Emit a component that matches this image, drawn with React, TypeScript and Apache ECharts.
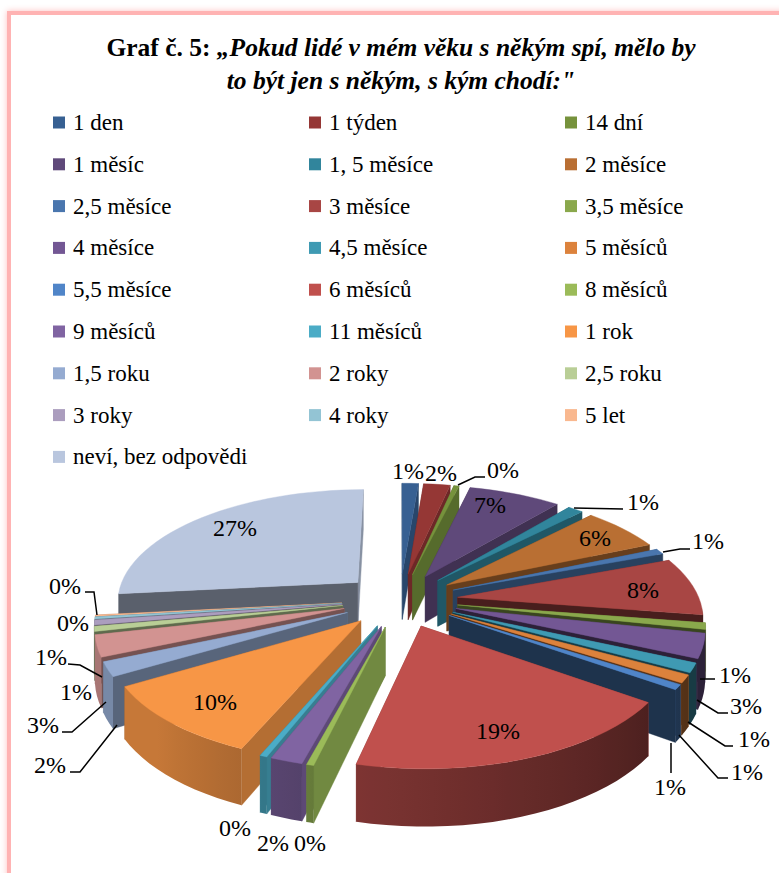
import React, { useEffect, useRef } from "react";
import * as echarts from "echarts";

const categories = ["1 den","1 týden","14 dní","1 měsíc","1, 5 měsíce","2 měsíce","2,5 měsíce","3 měsíce","3,5 měsíce","4 měsíce","4,5 měsíce","5 měsíců","5,5 měsíce","6 měsíců","8 měsíců","9 měsíců","11 měsíců","1 rok","1,5 roku","2 roky","2,5 roku","3 roky","4 roky","5 let","neví, bez odpovědi"];
const values = [1.3,2.1,0.4,7.3,1.2,6.3,0.8,8.2,0.9,3.4,1.3,1.1,0.7,19.0,0.4,1.8,0.4,10.2,2.0,3.0,0.7,0.7,0.3,0.2,26.8];
const colors = ["#376092","#953735","#76923C","#5F497A","#31859C","#B96F33","#4A76AE","#A84644","#8AA84C","#735794","#3F9AB3","#DC823C","#5085C8","#C0504D","#9BBB59","#8064A2","#4BACC6","#F79646","#95ABD1","#D29391","#B9CE96","#AB9DBE","#93C4D4","#F9B88F","#B9C6DE"];

const W = 779, H = 873;
const CX = 400, CY = 600, RX = 242, RY = 112, EXPLODE = 0.24, PERSP = 0.153, DEPTH = 47;

// label layout: slice index -> text centre, optional leader line
const labelLayout: Record<number, { at: number[]; leader?: number[][] }> = {
  0: { at: [408, 471] },
  1: { at: [441, 473] },
  2: { at: [503, 470], leader: [[458,485],[475,477],[485,477]] },
  3: { at: [490, 505] },
  4: { at: [643, 502], leader: [[574,508],[623,509]] },
  5: { at: [595, 538] },
  6: { at: [708, 541], leader: [[663,552],[680,549],[690,549]] },
  7: { at: [643, 590] },
  8: { at: [735, 675], leader: [[700,679],[715,679]] },
  9: { at: [746, 706], leader: [[697,700],[718,713],[728,713]] },
  10: { at: [754, 739], leader: [[688,722],[725,746],[733,746]] },
  11: { at: [747, 772], leader: [[679,735],[718,778],[728,778]] },
  12: { at: [670, 787], leader: [[671,743],[671,773]] },
  13: { at: [498, 731] },
  14: { at: [310, 843] },
  15: { at: [273, 843] },
  16: { at: [235, 828] },
  17: { at: [215, 702] },
  18: { at: [50, 765], leader: [[70,772],[80,772],[117,725]] },
  19: { at: [43, 725], leader: [[62,732],[72,732],[106,702]] },
  20: { at: [76, 692] },
  21: { at: [51, 657], leader: [[68,664],[80,665],[102,677]] },
  22: { at: [73, 623] },
  23: { at: [65, 586], leader: [[85,592],[94,592],[97,615]] },
  24: { at: [235, 528] },
};

const total = values.reduce((a, b) => a + b, 0);
const spans: { a0: number; a1: number }[] = [];
values.reduce((acc, v) => {
  spans.push({ a0: (acc / total) * 2 * Math.PI, a1: ((acc + v) / total) * 2 * Math.PI });
  return acc + v;
}, 0);

function project(u: number, v: number, drop: number) {
  const s = 1 / (1 - PERSP * v);
  return [CX + RX * u * s, CY + RY * v * s + drop * DEPTH * s];
}
function mix(hex: string, f: number) {
  const n = parseInt(hex.slice(1), 16);
  const c = [(n >> 16) & 255, (n >> 8) & 255, n & 255].map((x) => Math.round(x * f));
  return `rgb(${c[0]},${c[1]},${c[2]})`;
}
const lerp = (x: number, x0: number, x1: number, y0: number, y1: number) => {
  const t = Math.max(0, Math.min(1, (x - x0) / (x1 - x0)));
  return y0 + (y1 - y0) * t;
};
const radialShade = (deg: number) => (deg < 250 ? lerp(deg, 115, 200, 0.73, 0.38) : 0.7);
const arcShade = (deg: number) => (deg < 195 ? lerp(deg, 120, 195, 0.38, 0.66) : lerp(deg, 195, 225, 0.66, 0.8));

function renderSlice(i: number, api: any) {
  const { a0, a1 } = spans[i];
  const mid = (a0 + a1) / 2;
  const ox = EXPLODE * Math.sin(mid), oy = -EXPLODE * Math.cos(mid);
  const col = api.visual("color");
  const pt = (r: number, a: number, drop: number) => project(ox + r * Math.sin(a), oy - r * Math.cos(a), drop);
  const steps = Math.max(2, Math.ceil((a1 - a0) / (Math.PI / 60)));
  const children: any[] = [];
  const poly = (points: number[][], fill: any) =>
    children.push({ type: "polygon", shape: { points }, style: { fill, stroke: typeof fill === "string" ? fill : undefined, lineWidth: 0.4 } });
  const apex0 = pt(0, 0, 0), apex1 = pt(0, 0, 1);
  const a0Top = pt(1, a0, 0), a0Bot = pt(1, a0, 1), a1Top = pt(1, a1, 0), a1Bot = pt(1, a1, 1);
  const startDeg = ((a0 * 180) / Math.PI - 90 + 360) % 360;
  const endDeg = ((a1 * 180) / Math.PI + 90) % 360;
  const faces = [
    { pts: [apex0, a0Top, a0Bot, apex1], deg: startDeg, front: Math.cos(a0) },
    { pts: [apex0, a1Top, a1Bot, apex1], deg: endDeg, front: Math.cos(a1) },
  ].sort((p, q) => q.front - p.front);
  faces.forEach((f) => poly(f.pts, mix(col, radialShade(f.deg))));
  // outer wall: one shape with a horizontal shading gradient, facing part only
  const angles: number[] = [];
  for (let k = 0; k <= steps; k++) {
    const b = a0 + ((a1 - a0) * k) / steps;
    if (Math.cos(b) <= -0.1) angles.push(b);
  }
  if (angles.length >= 2) {
    const tops = angles.map((b) => pt(1, b, 0));
    const bots = angles.map((b) => pt(1, b, 1));
    const xs = tops.map((p) => p[0]);
    const minX = Math.min(...xs), maxX = Math.max(...xs);
    const stops = angles
      .map((b, k) => ({
        offset: maxX > minX ? (xs[k] - minX) / (maxX - minX) : 0,
        color: mix(col, arcShade((b * 180) / Math.PI)),
      }))
      .sort((p, q) => p.offset - q.offset);
    const grad = new echarts.graphic.LinearGradient(minX, 0, Math.max(maxX, minX + 1), 0, stops, true);
    poly([...tops, ...bots.reverse()], grad);
  }
  const top = [apex0];
  for (let k = 0; k <= steps; k++) top.push(pt(1, a0 + ((a1 - a0) * k) / steps, 0));
  poly(top, col);
  return { type: "group", children };
}

const rowsOf = (col: number) => categories.filter((_, i) => i % 3 === col);

export default function App() {
  const ref = useRef<HTMLDivElement>(null);
  useEffect(() => {
    const chart = echarts.init(ref.current!, undefined, { renderer: "svg" });
    const depthKey = values.map((_, i) => -Math.cos((spans[i].a0 + spans[i].a1) / 2));
    const rank = values.map((_, i) => i).sort((a, b) => depthKey[a] - depthKey[b]);
    const graphics: any[] = [
      { type: "rect", silent: true, z: 0, shape: { x: 9, y: 13, width: 800, height: 900 }, style: { fill: "#fff", stroke: "#FFB3B3", lineWidth: 4, shadowBlur: 6, shadowColor: "#FFC0C0" } },
      {
        type: "text", x: 401, y: 31, z: 1,
        style: {
          text: "{b|Graf č. 5: }{i|„Pokud lidé v mém věku s někým spí, mělo by}\n{i|to být jen s někým, s kým chodí:\"}",
          align: "center", verticalAlign: "top", fill: "#000",
          rich: {
            b: { font: "bold 25.5px 'Liberation Serif'", lineHeight: 33, fill: "#000" },
            i: { font: "italic bold 25.5px 'Liberation Serif'", lineHeight: 33, fill: "#000" },
          },
        },
      },
    ];
    values.forEach((v, i) => {
      const l = labelLayout[i];
      if (l.leader) graphics.push({ type: "polyline", z: 50, silent: true, shape: { points: l.leader }, style: { stroke: "#000", lineWidth: 1.5, fill: "none" } });
      graphics.push({
        type: "text", x: l.at[0], y: l.at[1], z: 51,
        style: { text: Math.round(v) + "%", align: "center", verticalAlign: "middle", font: "24px 'Liberation Serif'", fill: "#000" },
      });
    });
    chart.setOption({
      animation: false,
      color: colors,
      graphic: graphics,
      legend: [0, 1, 2].map((c) => ({
        left: [53, 309, 565][c], top: 111, orient: "vertical", itemWidth: 12, itemHeight: 12, itemGap: 18.8,
        icon: "rect", selectedMode: false, padding: 0,
        textStyle: { fontFamily: "Liberation Serif", fontSize: 23, color: "#000", lineHeight: 23, padding: [0, 0, 0, 3] },
        data: rowsOf(c),
      })),
      series: values.map((_, i) => ({
        type: "custom", name: categories[i], coordinateSystem: "none", silent: true,
        z: 10 + rank.indexOf(i),
        data: [values[i]],
        renderItem: (_p: any, api: any) => renderSlice(i, api),
      })),
    });
    return () => chart.dispose();
  }, []);
  return <div ref={ref} style={{ position: "absolute", left: 0, top: 0, width: W, height: H }} />;
}
